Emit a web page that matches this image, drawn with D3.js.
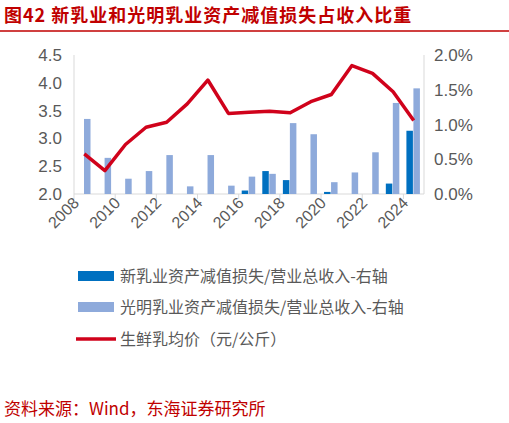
<!DOCTYPE html>
<html><head><meta charset="utf-8">
<script src="https://cdn.jsdelivr.net/npm/d3@7"></script>
<style>body{margin:0;background:#fff;font-family:"Noto Sans CJK SC","Liberation Sans",sans-serif}</style>
</head><body>
<svg id="c" width="509" height="423"></svg>
<script>
// data
var years = d3.range(2008, 2025);
var xinru = [0,0,0,0,0,0,0,0,0.05,0.33,0.20,0,0.03,0,0,0.15,0.91];
var guangming = [1.08,0.52,0.22,0.33,0.56,0.11,0.56,0.12,0.25,0.29,1.02,0.86,0.17,0.31,0.60,1.31,1.52];
var milkPrice = [2.72,2.42,2.89,3.20,3.29,3.62,4.05,3.45,3.47,3.49,3.46,3.66,3.79,4.31,4.17,3.84,3.32];
var leftTicks = [2.0,2.5,3.0,3.5,4.0,4.5];
var rightTicks = [0,0.5,1.0,1.5,2.0];
var xTicks = [2008,2010,2012,2014,2016,2018,2020,2022,2024];

var svg = d3.select("#c");
var grey = "#595959";

svg.append("text").attr("x", 4).attr("y", 22).attr("fill", "#c00000")
  .attr("font-size", 18).attr("font-weight", "bold").attr("letter-spacing", 1)
  .text("图42  新乳业和光明乳业资产减值损失占收入比重");
svg.append("line").attr("x1", 0).attr("x2", 509).attr("y1", 31).attr("y2", 31)
  .attr("stroke", "#c00000").attr("stroke-width", 1.5);

var x = d3.scaleBand().domain(years).range([74, 424]);
var yL = d3.scaleLinear().domain([2, 4.5]).range([194, 55]);
var yR = d3.scaleLinear().domain([0, 2]).range([194, 55]);

// axes lines
svg.append("line").attr("x1", 74).attr("x2", 74).attr("y1", 55).attr("y2", 194).attr("stroke", "#d9d9d9");
svg.append("line").attr("x1", 424).attr("x2", 424).attr("y1", 55).attr("y2", 194).attr("stroke", "#d9d9d9");
svg.append("line").attr("x1", 74).attr("x2", 424).attr("y1", 194).attr("y2", 194).attr("stroke", "#d9d9d9");

leftTicks.forEach(function(t) {
  svg.append("text").attr("x", 62).attr("y", yL(t) + 6).attr("text-anchor", "end")
    .attr("font-size", 17).attr("fill", grey).attr("font-family", "Liberation Sans").text(t.toFixed(1));
});
rightTicks.forEach(function(t) {
  svg.append("text").attr("x", 434).attr("y", yR(t) + 6)
    .attr("font-size", 17).attr("fill", grey).attr("font-family", "Liberation Sans").text(t.toFixed(1) + "%");
});
xTicks.forEach(function(t) {
  svg.append("line").attr("x1", x(t)).attr("x2", x(t)).attr("y1", 194).attr("y2", 199).attr("stroke", "#d9d9d9");
  svg.append("text").attr("transform", "translate(" + (x(t) + 6) + ",204) rotate(-45)")
    .attr("text-anchor", "end").attr("font-size", 16).attr("fill", grey)
    .attr("font-family", "Liberation Sans").text(t);
});

var bw = 6.5;
svg.selectAll(".xr").data(years).enter().append("rect")
  .attr("x", function(d) { return x(d) + 3; }).attr("width", bw)
  .attr("y", function(d, i) { return yR(xinru[i]); })
  .attr("height", function(d, i) { return 194 - yR(xinru[i]); })
  .attr("fill", "#0070c0");
svg.selectAll(".gm").data(years).enter().append("rect")
  .attr("x", function(d) { return x(d) + 10; }).attr("width", bw)
  .attr("y", function(d, i) { return yR(guangming[i]); })
  .attr("height", function(d, i) { return 194 - yR(guangming[i]); })
  .attr("fill", "#8eaadb");

var line = d3.line().x(function(d, i) { return x(years[i]) + x.bandwidth() / 2; }).y(function(d) { return yL(d); });
svg.append("path").datum(milkPrice).attr("d", line).attr("fill", "none")
  .attr("stroke", "#d0021b").attr("stroke-width", 3.5).attr("stroke-linejoin", "round");

// legend
var leg = [
  {t: "新乳业资产减值损失/营业总收入-右轴", c: "#0070c0", y: 276},
  {t: "光明乳业资产减值损失/营业总收入-右轴", c: "#8eaadb", y: 307},
  {t: "生鲜乳均价（元/公斤）", c: "#d0021b", y: 339, line: true}
];
leg.forEach(function(l) {
  if (l.line) {
    svg.append("line").attr("x1", 76).attr("x2", 116).attr("y1", l.y).attr("y2", l.y)
      .attr("stroke", l.c).attr("stroke-width", 3.5);
  } else {
    svg.append("rect").attr("x", 78).attr("y", l.y - 5).attr("width", 36).attr("height", 10).attr("fill", l.c);
  }
  svg.append("text").attr("x", 120).attr("y", l.y + 6).attr("font-size", 16).attr("fill", grey).text(l.t);
});

svg.append("text").attr("x", 4).attr("y", 415).attr("font-size", 17).attr("fill", "#c00000")
  .text("资料来源：Wind，东海证券研究所");
</script>
</body></html>
